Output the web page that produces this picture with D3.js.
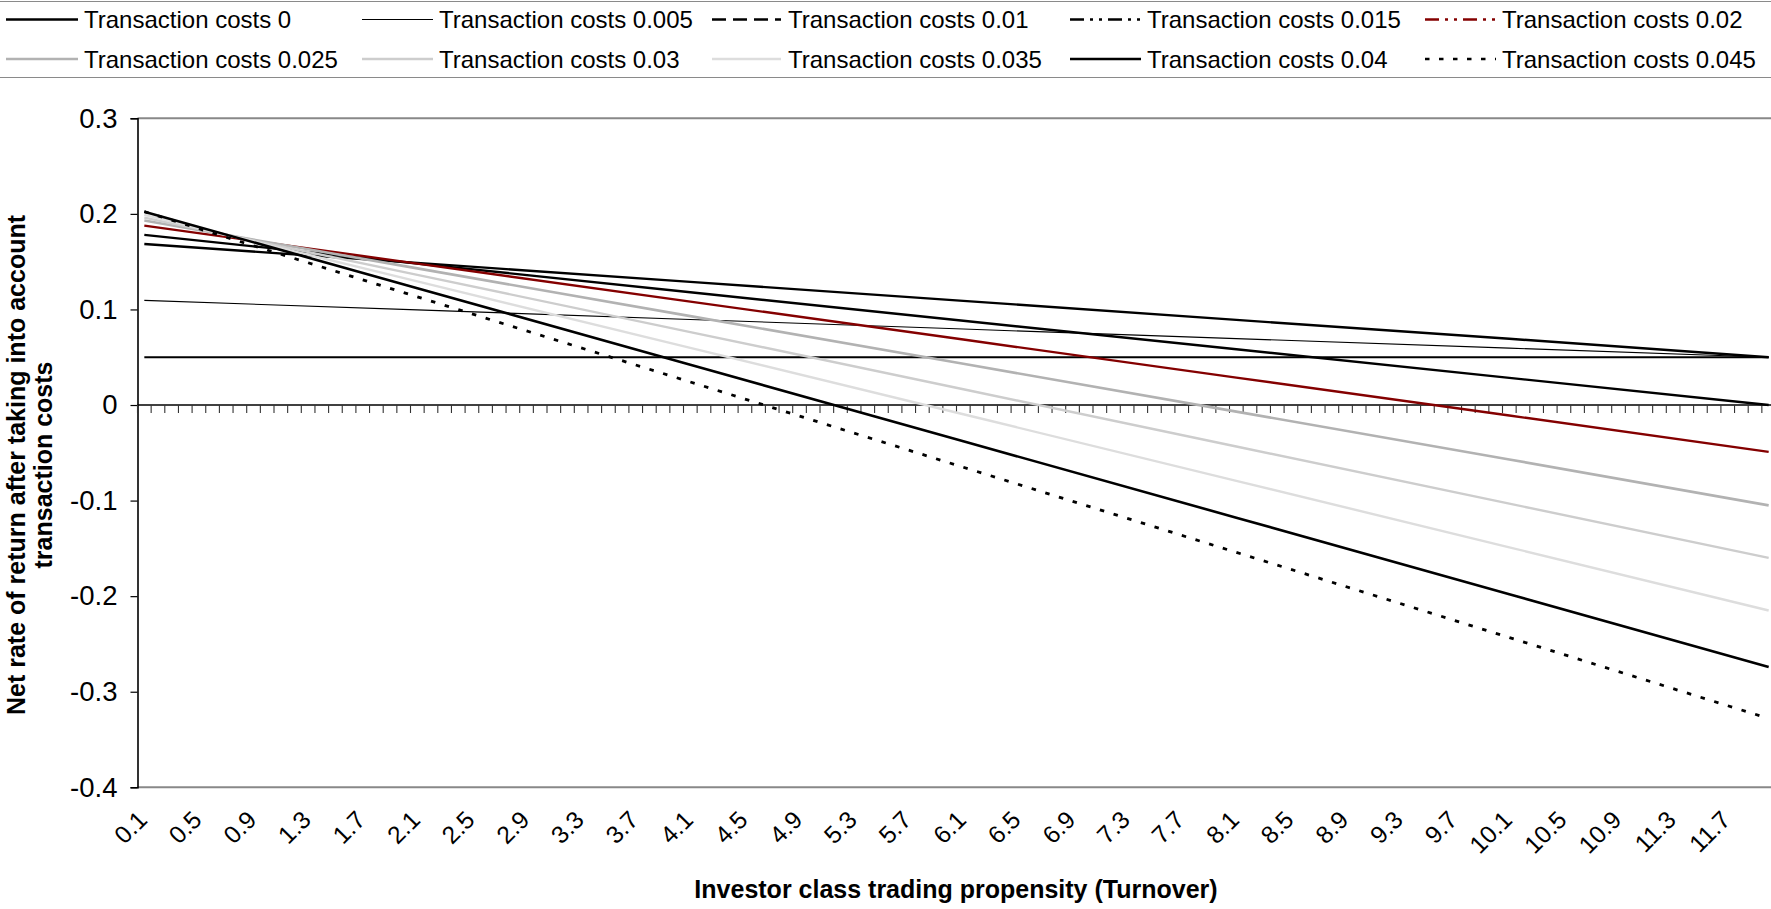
<!DOCTYPE html>
<html><head><meta charset="utf-8">
<script src="https://cdn.jsdelivr.net/npm/d3@7"></script>
<style>
body{margin:0;background:#fff;}
svg{display:block;}
text{font-family:"Liberation Sans",Arial,sans-serif;fill:#000;}
</style>
</head><body>
<svg id="chart" width="1771" height="909"></svg>
<script>
// ---- data ----
// category axis: turnover 0.1 ... 12.0
const categories = d3.range(1, 121).map(i => (i / 10).toFixed(1));
const xTickLabels = ["0.1","0.5","0.9","1.3","1.7","2.1","2.5","2.9","3.3","3.7","4.1","4.5","4.9","5.3","5.7","6.1","6.5","6.9","7.3","7.7","8.1","8.5","8.9","9.3","9.7","10.1","10.5","10.9","11.3","11.7"];
const yTickValues = [-0.4, -0.3, -0.2, -0.1, 0, 0.1, 0.2, 0.3];
const sampleTurnover = ["0.1","2.1","4.1","6.1","8.1","10.1","12.0"];
const seriesNames = ["Transaction costs 0","Transaction costs 0.005","Transaction costs 0.01","Transaction costs 0.015","Transaction costs 0.02","Transaction costs 0.025","Transaction costs 0.03","Transaction costs 0.035","Transaction costs 0.04","Transaction costs 0.045"];
const tc0    = [0.050, 0.050, 0.050, 0.050, 0.050, 0.050, 0.050];
const tc0005 = [0.1095, 0.0995, 0.0895, 0.0795, 0.0695, 0.0595, 0.050];
const tc001  = [0.1685, 0.1487, 0.1288, 0.1090, 0.0891, 0.0693, 0.050];
const tc0015 = [0.178, 0.148, 0.118, 0.0882, 0.0583, 0.0284, 0.000];
const tc002  = [0.1877, 0.1480, 0.1082, 0.0685, 0.0287, -0.0110, -0.049];
const tc0025 = [0.193, 0.143, 0.0930, 0.0431, -0.0069, -0.0570, -0.105];
const tc003  = [0.196, 0.1362, 0.0763, 0.0165, -0.0434, -0.1032, -0.160];
const tc0035 = [0.199, 0.1294, 0.0598, -0.0097, -0.0793, -0.1489, -0.215];
const tc004  = [0.2023, 0.1222, 0.0422, -0.0379, -0.1179, -0.1980, -0.274];
const tc0045 = [0.2023, 0.1132, 0.0241, -0.0651, -0.1542, -0.2433, -0.328];
const seriesValues = [tc0, tc0005, tc001, tc0015, tc002, tc0025, tc003, tc0035, tc004, tc0045];

// ---- styles ----
const styles = [
  {color:"#000", w:2.2, dash:null, legendDash:null},
  {color:"#000", w:1.1, dash:null, legendDash:null},
  {color:"#000", w:2.4, dash:null, legendDash:"14,7"},
  {color:"#000", w:2.4, dash:null, legendDash:"14,6,3,6,3,6"},
  {color:"#840000", w:2.4, dash:null, legendDash:"14,6,3,6,3,6"},
  {color:"#b2b2b2", w:2.6, dash:null, legendDash:null},
  {color:"#cdcdcd", w:2.4, dash:null, legendDash:null},
  {color:"#dddddd", w:2.4, dash:null, legendDash:null},
  {color:"#000", w:2.6, dash:null, legendDash:null},
  {color:"#000", w:2.8, dash:"4.5,9.8", legendDash:"4.5,9.5"}
];

const svg = d3.select("#chart");
const W = 1771, H = 909;
const plotLeft = 137.5, catStep = 13.65;
const x = d3.scaleBand().domain(categories).range([plotLeft, plotLeft + categories.length * catStep]).padding(0);
const y = d3.scaleLinear().domain([-0.4, 0.3]).range([787.3, 118.3]);
const cx = c => x(c) + x.bandwidth() / 2;

// ---- legend ----
svg.append("line").attr("x1", 0).attr("x2", W).attr("y1", 1.5).attr("y2", 1.5).attr("stroke", "#8a8a8a").attr("stroke-width", 1.2);
svg.append("line").attr("x1", 0).attr("x2", W).attr("y1", 77.5).attr("y2", 77.5).attr("stroke", "#8a8a8a").attr("stroke-width", 1.2);
const legCols = [{x0:6,x1:78,tx:84},{x0:362,x1:433,tx:439},{x0:712,x1:781,tx:788},{x0:1070,x1:1141,tx:1147},{x0:1425,x1:1496,tx:1502}];
const legRows = [19.5, 59];
seriesNames.forEach((name, i) => {
  const col = legCols[i % 5], row = legRows[Math.floor(i / 5)];
  const st = styles[i];
  const g = svg.append("g");
  g.append("line").attr("x1", col.x0).attr("x2", col.x1).attr("y1", row).attr("y2", row)
    .attr("stroke", st.color).attr("stroke-width", i === 1 ? 1.2 : 2.6)
    .attr("stroke-dasharray", st.legendDash);
  g.append("text").attr("x", col.tx).attr("y", row).attr("dy", "0.36em")
    .attr("font-size", 24).text(name);
});

// ---- plot frame ----
svg.append("line").attr("x1", plotLeft).attr("x2", W).attr("y1", y(0.3)).attr("y2", y(0.3)).attr("stroke", "#888").attr("stroke-width", 2);
svg.append("line").attr("x1", plotLeft).attr("x2", W).attr("y1", y(-0.4)).attr("y2", y(-0.4)).attr("stroke", "#888").attr("stroke-width", 2);

// y axis
const yAxis = d3.axisLeft(y).tickValues(yTickValues).tickSize(7).tickPadding(13)
  .tickFormat(d => String(+d.toFixed(1)));
const gy = svg.append("g").attr("transform", `translate(${plotLeft},0)`).call(yAxis);
gy.select(".domain").attr("stroke", "#000").attr("stroke-width", 1.6);
gy.selectAll(".tick line").attr("stroke", "#000").attr("stroke-width", 1.2);
gy.selectAll(".tick text").attr("font-size", 27.5).attr("font-family", '"Liberation Sans",Arial,sans-serif').attr("fill", "#000");

// x (category) axis at y = 0
const y0 = y(0);
svg.append("line").attr("x1", plotLeft).attr("x2", W).attr("y1", y0).attr("y2", y0).attr("stroke", "#000").attr("stroke-width", 1.3);
const tickXs = categories.map(c => x(c)).concat([x.range()[1]]);
svg.append("g").selectAll("line").data(tickXs).join("line")
  .attr("x1", d => d).attr("x2", d => d).attr("y1", y0).attr("y2", y0 + 8)
  .attr("stroke", "#333").attr("stroke-width", 1.1);

// x tick labels (rotated)
svg.append("g").selectAll("text").data(xTickLabels).join("text")
  .attr("transform", d => `translate(${cx(d) - 2},${815}) rotate(-45)`)
  .attr("text-anchor", "end").attr("dy", "0.36em").attr("font-size", 24.5).text(d => d);

// ---- series ----
const line = d3.line().x(d => cx(d[0])).y(d => y(d[1]));
seriesValues.forEach((vals, i) => {
  const st = styles[i];
  const pts = sampleTurnover.map((t, j) => [t, vals[j]]);
  svg.append("path").datum(pts).attr("d", line)
    .attr("fill", "none").attr("stroke", st.color).attr("stroke-width", st.w)
    .attr("stroke-dasharray", st.dash).attr("stroke-linejoin", "round");
});

// ---- titles ----
const yt = svg.append("text").attr("transform", "translate(0,465) rotate(-90)")
  .attr("text-anchor", "middle").attr("font-weight", "bold").attr("font-size", 25);
yt.append("tspan").attr("x", 0).attr("y", 25).text("Net rate of return after taking into account");
yt.append("tspan").attr("x", 0).attr("y", 52).text("transaction costs");

svg.append("text").attr("x", 956).attr("y", 898).attr("text-anchor", "middle")
  .attr("font-weight", "bold").attr("font-size", 25).text("Investor class trading propensity (Turnover)");
</script>
</body></html>
